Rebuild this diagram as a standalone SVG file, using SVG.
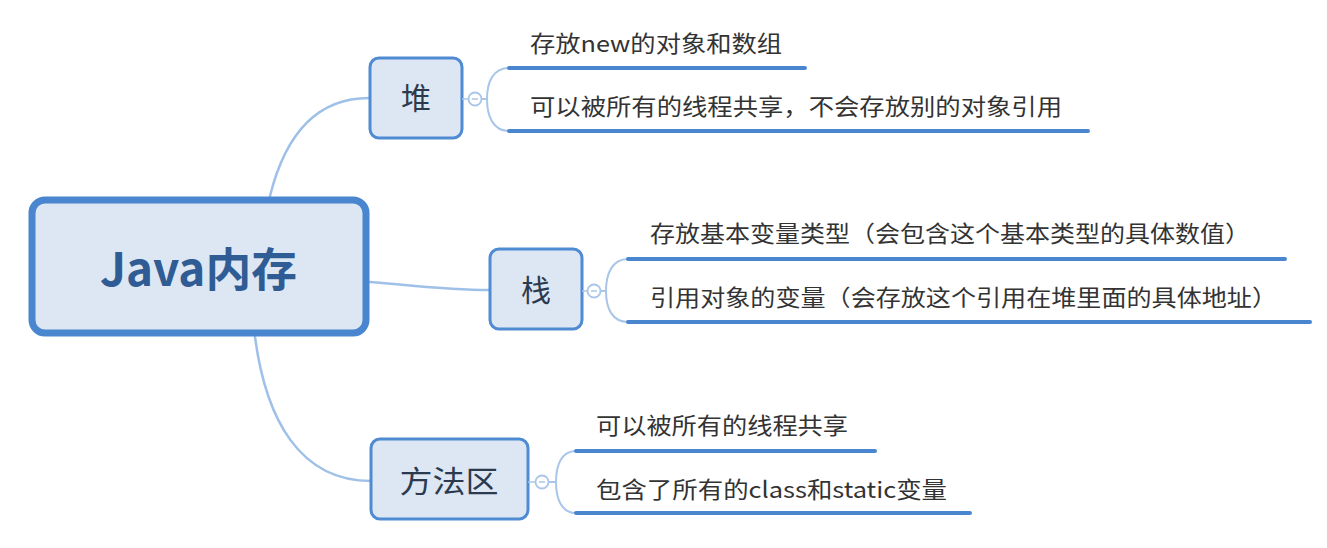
<svg xmlns="http://www.w3.org/2000/svg" width="1327" height="548" viewBox="0 0 1327 548">
<style>
.bg{fill:#ffffff}
.conn{fill:none;stroke:#9fc0e8;stroke-width:2.5;stroke-linecap:round}
.bracket{fill:none;stroke:#a9c6ea;stroke-width:2}
.under{stroke:#4a86cf;stroke-width:4;stroke-linecap:round}
.node{fill:#dde7f3;stroke:#4f8bd3;stroke-width:3}
.root{fill:#dde7f3;stroke:#4a86cf;stroke-width:7}
.tog{fill:#ffffff;stroke:#a9c6ea;stroke-width:1.8}
.togm{stroke:#a9c6ea;stroke-width:1.5}
.leaf{font-family:"Noto Sans CJK SC","Noto Sans",sans-serif;font-size:22.5px;fill:#333333}
.ntext{font-family:"Noto Sans CJK SC","Noto Sans",sans-serif;font-size:30px;fill:#2c3a50;text-anchor:middle}
.rtext{font-family:"Noto Sans CJK SC","Noto Sans",sans-serif;font-size:46px;font-weight:bold;fill:#2f5c94}
</style>
<rect class="bg" x="0" y="0" width="1327" height="548"/>
<g id="connectors">
<path class="conn" d="M270,196 C284,140 312,98 369,98"/>
<path class="conn" d="M370,282 C410,285 445,290 489,290"/>
<path class="conn" d="M255,337 C266,420 300,481 371,481"/>
</g>
<g id="root">
<rect class="root" x="32" y="200" width="334" height="133" rx="13"/>
<text class="rtext" x="100" y="286" textLength="197" lengthAdjust="spacingAndGlyphs">Java内存</text>
</g>
<g id="heap">
<rect class="node" x="370" y="58" width="92" height="80" rx="9"/>
<text class="ntext" x="416" y="109">堆</text>
<line class="togm" x1="462" y1="99" x2="469" y2="99"/>
<circle class="tog" cx="475" cy="99" r="6.5"/>
<line class="togm" x1="472" y1="99" x2="478" y2="99"/>
<path class="bracket" d="M481.5,99 H487 M509,68 C493,68 487,82 487,99 C487,116 493,131 509,131"/>
<line class="under" x1="509" y1="68" x2="805" y2="68"/>
<line class="under" x1="509" y1="131" x2="1088" y2="131"/>
<text class="leaf" x="530" y="52" textLength="252" lengthAdjust="spacingAndGlyphs">存放new的对象和数组</text>
<text class="leaf" x="530" y="115" textLength="532" lengthAdjust="spacingAndGlyphs">可以被所有的线程共享，不会存放别的对象引用</text>
</g>
<g id="stack">
<rect class="node" x="490" y="249" width="92" height="80" rx="9"/>
<text class="ntext" x="536" y="301">栈</text>
<line class="togm" x1="582" y1="291" x2="587" y2="291"/>
<circle class="tog" cx="594" cy="291" r="6.5"/>
<line class="togm" x1="591" y1="291" x2="597" y2="291"/>
<path class="bracket" d="M600.5,291 H606 M628,259 C612,259 606,274 606,291 C606,308 612,322 628,322"/>
<line class="under" x1="628" y1="259" x2="1285" y2="259"/>
<line class="under" x1="628" y1="322" x2="1310" y2="322"/>
<text class="leaf" x="650" y="242" textLength="600" lengthAdjust="spacingAndGlyphs">存放基本变量类型（会包含这个基本类型的具体数值）</text>
<text class="leaf" x="650" y="306" textLength="627" lengthAdjust="spacingAndGlyphs">引用对象的变量（会存放这个引用在堆里面的具体地址）</text>
</g>
<g id="method-area">
<rect class="node" x="371" y="439" width="157" height="80" rx="9"/>
<text class="ntext" x="449" y="492" textLength="99" lengthAdjust="spacingAndGlyphs">方法区</text>
<line class="togm" x1="528" y1="482" x2="535" y2="482"/>
<circle class="tog" cx="542" cy="482" r="6.5"/>
<line class="togm" x1="539" y1="482" x2="545" y2="482"/>
<path class="bracket" d="M548.5,482 H556 M576,451 C561,451 556,466 556,482 C556,498 561,513 576,513"/>
<line class="under" x1="576" y1="451" x2="875" y2="451"/>
<line class="under" x1="576" y1="513" x2="970" y2="513"/>
<text class="leaf" x="596" y="434" textLength="252" lengthAdjust="spacingAndGlyphs">可以被所有的线程共享</text>
<text class="leaf" x="596" y="498" textLength="351" lengthAdjust="spacingAndGlyphs">包含了所有的class和static变量</text>
</g>
</svg>
